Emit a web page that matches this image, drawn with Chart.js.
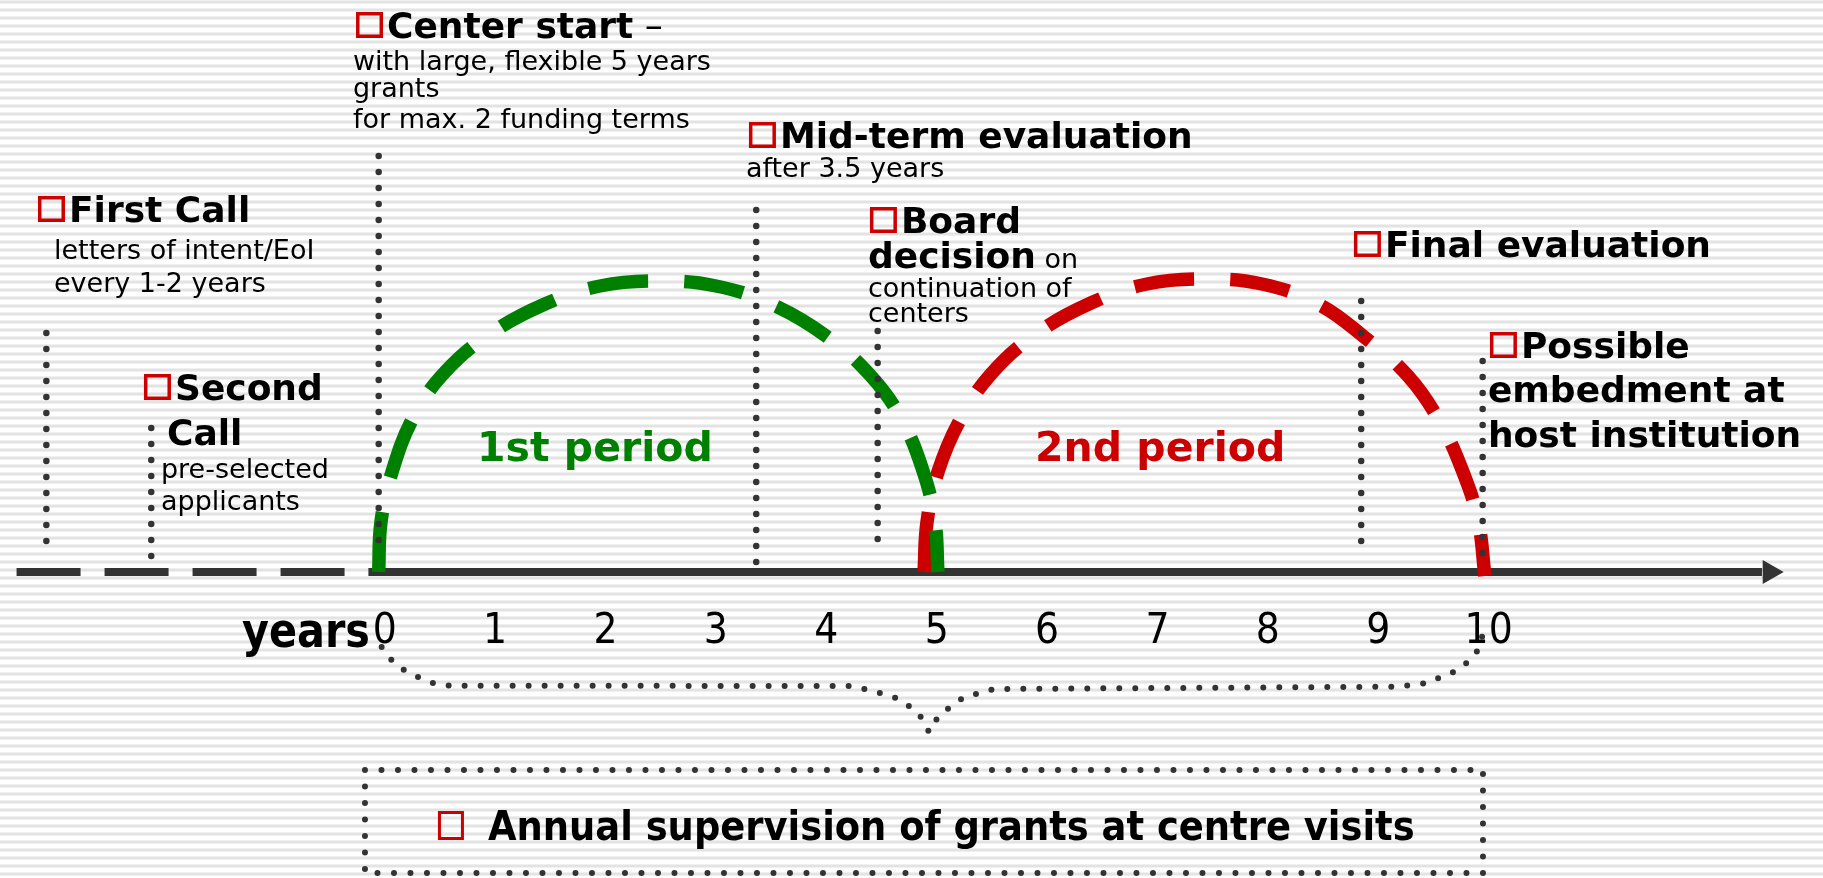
<!DOCTYPE html>
<html>
<head>
<meta charset="utf-8">
<title>Funding timeline</title>
<script src="https://cdn.jsdelivr.net/npm/chart.js@4.4.1/dist/chart.umd.min.js"></script>
<style>
html,body{margin:0;padding:0;background:#ffffff;overflow:hidden;}
canvas{display:block;}
</style>
</head>
<body>
<canvas id="chart" width="1823" height="878"></canvas>
<script>
// ---------------- data ----------------
const yearTicks = [0, 1, 2, 3, 4, 5, 6, 7, 8, 9, 10];
const axisTitle = 'years';

const eventNames = ['First Call', 'Second Call', 'Center start', 'Mid-term evaluation',
  'Board decision', 'Final evaluation', 'Possible embedment at host institution'];
const eventYears = [-3.01, -2.06, 0.0, 3.42, 4.52, 8.90, 10.0];
const eventMarkerTop = [2.39, 1.44, 4.16, 3.62, 2.41, 2.71, 2.11];
const eventMarkerBase = [0.15, 0.15, 0.16, 0.09, 0.17, 0.15, 0.03];
const eventTitleLines = [['First Call'], ['Second', 'Call'], ['Center start'], ['Mid-term evaluation'],
  ['Board', 'decision'], ['Final evaluation'], ['Possible', 'embedment at', 'host institution']];
const eventTitleSuffix = ['', '', ' \u2013', '', '', '', ''];
const eventDetailLines = [['letters of intent/EoI', 'every 1-2 years'], ['pre-selected', 'applicants'],
  ['with large, flexible 5 years', 'grants', 'for max. 2 funding terms'], ['after 3.5 years'],
  ['on', 'continuation of', 'centers'], [], []];

const periodNames = ['1st period', '2nd period'];
const period1X = [0.000, 0.021, 0.121, 0.320, 0.601, 1.008, 1.507, 2.005, 2.530, 3.056, 3.554, 4.052, 4.459, 4.740, 4.940, 5.039, 5.066];
const period1Y = [0.00, 0.50, 1.00, 1.56, 2.00, 2.38, 2.68, 2.86, 2.91, 2.86, 2.68, 2.36, 1.96, 1.52, 0.98, 0.50, 0.00];
const period2X = [4.940, 4.967, 5.066, 5.266, 5.547, 5.954, 6.452, 6.959, 7.485, 8.001, 8.509, 8.916, 9.324, 9.613, 9.822, 9.958, 10.021];
const period2Y = [0.00, 0.50, 1.00, 1.52, 1.98, 2.38, 2.69, 2.88, 2.93, 2.88, 2.68, 2.36, 1.96, 1.50, 1.00, 0.52, -0.04];

const timelineLeadX = [-3.28, -0.05];
const timelineMainX = [-0.09, 12.53];
const timelineArrowX = [12.60];

const braceX = [0.027, 0.116, 0.229, 0.356, 0.492, 0.642, 4.269, 4.405, 4.541, 4.686, 4.804, 4.912, 4.985,
  5.066, 5.175, 5.293, 5.438, 5.574, 9.197, 9.351, 9.496, 9.623, 9.758, 9.867, 9.967, 10.003];
const braceY = [-0.75, -0.88, -0.98, -1.05, -1.11, -1.137, -1.14, -1.17, -1.21, -1.26, -1.34, -1.45, -1.60,
  -1.45, -1.35, -1.26, -1.21, -1.17, -1.147, -1.13, -1.11, -1.05, -0.99, -0.90, -0.77, -0.61];

const supervisionLabel = 'Annual supervision of grants at centre visits';
const supervisionBoxX = [-0.124, 10.003, 10.003, -0.124, -0.124];
const supervisionBoxY = [-1.98, -1.98, -3.01, -3.01, -1.98];

// ---------------- layout / styles ----------------
const DARK = '#333333';
const GREEN = '#008000';
const RED = '#cc0000';
const HEAD = 'bold 36px "DejaVu Sans", Verdana, sans-serif';
const SUB = '27px "DejaVu Sans", Verdana, sans-serif';
const noteLayout = [
  {titles: [[-3.086, 3.50]], details: [[-2.941, 3.13], [-2.941, 2.80]]},
  {titles: [[-2.126, 1.72], [-1.917, 1.27]], details: [[-1.972, 0.94], [-1.972, 0.62]]},
  {titles: [[-0.205, 5.34]], details: [[-0.233, 5.02], [-0.233, 4.75], [-0.233, 4.44]]},
  {titles: [[3.354, 4.24]], details: [[3.327, 3.95]]},
  {titles: [[4.450, 3.39], [4.432, 3.04]], details: [null, [4.432, 2.75], [4.432, 2.50]]},
  {titles: [[8.834, 3.15]], details: []},
  {titles: [[10.066, 2.14], [10.048, 1.70], [10.048, 1.25]], details: []}
];
const periodLabelPos = [[0.891, 1.11], [5.945, 1.11]];
const periodColors = [GREEN, RED];
const axisTitlePos = [-0.079, -0.75];
const supervisionBulletPos = [0.537, -2.68];
const supervisionTextPos = [0.990, -2.68];

const pts = (xs, ys) => xs.map((x, i) => ({x: x, y: ys[i]}));

const datasets = [];
eventYears.forEach((x, i) => {
  datasets.push({
    label: eventNames[i],
    data: [{x: x, y: eventMarkerTop[i]}, {x: x, y: eventMarkerBase[i]}],
    showLine: true, borderColor: DARK, borderWidth: 6.5, borderDash: [0, 16],
    borderCapStyle: 'round', pointRadius: 0, clip: false
  });
});
datasets.push({label: periodNames[0], data: pts(period1X, period1Y), showLine: true, borderColor: GREEN,
  borderWidth: 13.5, borderDash: [60, 36], tension: 0.4, pointRadius: 0, clip: false});
datasets.push({label: periodNames[1], data: pts(period2X, period2Y), showLine: true, borderColor: RED,
  borderWidth: 13.5, borderDash: [60, 36], tension: 0.4, pointRadius: 0, clip: false});
datasets.push({label: 'brace', data: pts(braceX, braceY), showLine: true, borderColor: DARK, borderWidth: 6,
  borderDash: [0, 16], borderCapStyle: 'round', tension: 0, pointRadius: 0, clip: false});
datasets.push({label: 'supervision', data: pts(supervisionBoxX, supervisionBoxY), showLine: true, borderColor: DARK,
  borderWidth: 6, borderDash: [0, 16.5], borderCapStyle: 'round', tension: 0, pointRadius: 0, clip: false});
datasets.push({label: 'arrowhead', data: [{x: timelineArrowX[0], y: 0}], showLine: false, pointStyle: 'triangle',
  rotation: 90, pointRadius: 14, backgroundColor: DARK, borderColor: DARK, borderWidth: 0, clip: false});
datasets.push({label: 'timeline', data: [{x: timelineMainX[0], y: 0}, {x: timelineMainX[1], y: 0}], showLine: true,
  borderColor: DARK, borderWidth: 8, pointRadius: 0, clip: false});
datasets.push({label: 'calls', data: [{x: timelineLeadX[0], y: 0}, {x: timelineLeadX[1], y: 0}], showLine: true,
  borderColor: DARK, borderWidth: 8, borderDash: [64, 24], pointRadius: 0, clip: false});

const stripes = {
  id: 'stripes',
  beforeDraw(chart) {
    const {ctx, width, height} = chart;
    ctx.save();
    ctx.fillStyle = '#ffffff';
    ctx.fillRect(0, 0, width, height);
    for (let y = 0; y < height; y += 8) {
      ctx.fillStyle = '#f0f0f0';
      ctx.fillRect(0, y, width, 1);
      ctx.fillRect(0, y + 3, width, 1);
      ctx.fillStyle = '#e3e3e3';
      ctx.fillRect(0, y + 1, width, 2);
    }
    ctx.restore();
  }
};

function bullet(ctx, left, base, w, h, lw) {
  ctx.save();
  ctx.strokeStyle = RED;
  ctx.lineWidth = lw;
  ctx.strokeRect(left + lw / 2, base - h + lw / 2, w - lw, h - lw);
  ctx.restore();
}

const notesPlugin = {
  id: 'notes',
  afterDatasetsDraw(chart) {
    const {ctx} = chart;
    const xs = chart.scales.x, ys = chart.scales.y;
    const X = v => xs.getPixelForValue(v), Y = v => ys.getPixelForValue(v);
    ctx.save();
    ctx.textBaseline = 'alphabetic';
    ctx.textAlign = 'left';
    ctx.fillStyle = '#000';
    noteLayout.forEach((lay, i) => {
      let lastEnd = 0, lastBase = 0;
      eventTitleLines[i].forEach((t, j) => {
        const p = lay.titles[j];
        let left = X(p[0]);
        const base = Y(p[1]);
        if (j === 0) { bullet(ctx, left, base, 27, 26, 3.5); left += 31; }
        ctx.font = HEAD;
        ctx.fillText(t, left, base);
        let end = left + ctx.measureText(t).width;
        if (j === 0 && eventTitleSuffix[i]) {
          ctx.font = '36px "DejaVu Sans", Verdana, sans-serif';
          ctx.fillText(eventTitleSuffix[i], end, base);
          end += ctx.measureText(eventTitleSuffix[i]).width;
        }
        lastEnd = end; lastBase = base;
      });
      eventDetailLines[i].forEach((t, j) => {
        const p = lay.details[j];
        ctx.font = SUB;
        if (p === null) {
          ctx.fillText(' ' + t, lastEnd, lastBase);
        } else {
          ctx.fillText(t, X(p[0]), Y(p[1]));
        }
      });
    });
    periodNames.forEach((t, i) => {
      ctx.font = 'bold 41px "DejaVu Sans", Verdana, sans-serif';
      ctx.fillStyle = periodColors[i];
      ctx.fillText(t, X(periodLabelPos[i][0]), Y(periodLabelPos[i][1]));
    });
    ctx.fillStyle = '#000';
    ctx.font = 'bold 48px "DejaVu Sans", Verdana, sans-serif';
    ctx.textAlign = 'right';
    ctx.fillText(axisTitle, X(axisTitlePos[0]), Y(axisTitlePos[1]), 128);
    ctx.textAlign = 'left';
    bullet(ctx, X(supervisionBulletPos[0]), Y(supervisionBulletPos[1]), 26, 29, 3);
    ctx.font = 'bold 41px "DejaVu Sans Condensed", "DejaVu Sans", sans-serif';
    ctx.fillText(supervisionLabel, X(supervisionTextPos[0]), Y(supervisionTextPos[1]), 928);
    ctx.restore();
  }
};

new Chart(document.getElementById('chart'), {
  type: 'scatter',
  data: {datasets: datasets},
  options: {
    responsive: false,
    animation: false,
    devicePixelRatio: 1,
    events: [],
    layout: {autoPadding: false, padding: {left: 0, right: 0, top: 0, bottom: 220.8}},
    plugins: {legend: {display: false}, tooltip: {enabled: false}},
    scales: {
      x: {
        type: 'linear', min: -3.43, max: 13.083,
        grid: {display: false, drawTicks: false, tickLength: 0}, border: {display: false},
        afterBuildTicks: s => { s.ticks = yearTicks.map(v => ({value: v})); },
        afterFit: s => { s.paddingLeft = 0; s.paddingRight = 0; },
        ticks: {
          padding: 0, labelOffset: 6, color: '#000', autoSkip: false, maxRotation: 0,
          font: {family: '"DejaVu Sans Condensed", "DejaVu Sans", sans-serif', size: 42},
          callback: v => String(v)
        }
      },
      y: {type: 'linear', display: false, min: -0.348, max: 5.72}
    }
  },
  plugins: [stripes, notesPlugin]
});
</script>
</body>
</html>
